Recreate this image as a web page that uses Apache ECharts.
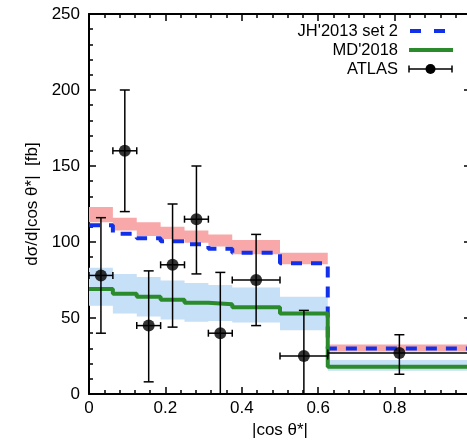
<!DOCTYPE html>
<html>
<head>
<meta charset="utf-8">
<script src="https://cdn.jsdelivr.net/npm/echarts@6/dist/echarts.min.js"></script>
<style>
html,body{margin:0;padding:0;background:#fff;}
#chart{width:467px;height:445px;}
</style>
</head>
<body>
<div id="chart"></div>
<script>
// ---- data ----
var binEdges = [0, 0.0625, 0.125, 0.1875, 0.25, 0.3125, 0.375, 0.5, 0.625, 1];
var jhCentral = [111, 105.5, 102.5, 100.5, 98.5, 95.5, 93, 86, 30];
var jhBandLow = [113, 107.5, 104, 102, 99.5, 97, 92, 85.3, 28];
var jhBandHigh = [123, 116, 113, 110, 107.5, 105, 101.3, 93, 32.5];
var mdCentral = [69, 66, 64, 62, 60, 59, 57, 53, 18];
var mdBandLow = [58, 53, 51, 49, 47.6, 48, 47, 42, 15.3];
var mdBandHigh = [83, 79, 77, 74.6, 73, 71.7, 70, 64, 22.4];
var atlasX = [0.03125, 0.09375, 0.15625, 0.21875, 0.28125, 0.34375, 0.4375, 0.5625, 0.8125];
var atlasXErr = [0.03125, 0.03125, 0.03125, 0.03125, 0.03125, 0.03125, 0.0625, 0.0625, 0.1875];
var atlasY = [78, 160, 45, 85, 115, 40, 75, 25, 27];
var atlasYLow = [40, 120, 8, 44, 79, -2, 45, -5, 13];
var atlasYHigh = [116, 200, 81, 125, 150, 80, 105, 55, 39];
var seriesNames = ["JH'2013 set 2", "MD'2018", "ATLAS"];
var xTitle = '|cos θ*|';
var yTitle = 'dσ/d|cos θ*|  [fb]';

// ---- styles ----
var FONT = 'Liberation Sans, Arial, Helvetica, sans-serif';
var C_JH = '#1230ea';
var C_JH_BAND = '#f8a8a8';
var C_MD = '#2b8a2b';
var C_MD_BAND = '#c6e0f8';

function stepData(vals) {
  var d = [];
  for (var i = 0; i < vals.length; i++) d.push([binEdges[i], vals[i]]);
  d.push([binEdges[binEdges.length - 1], vals[vals.length - 1]]);
  return d;
}
function bandData(lo, hi) {
  var d = [];
  for (var i = 0; i < lo.length; i++) d.push([binEdges[i], binEdges[i + 1], lo[i], hi[i]]);
  return d;
}
function bandRender(color, lo, hi) {
  return function (params, api) {
    if (params.dataIndex !== 0) return null;
    var pts = [];
    for (var i = 0; i < lo.length; i++) {
      pts.push(api.coord([binEdges[i], hi[i]]));
      pts.push(api.coord([binEdges[i + 1], hi[i]]));
    }
    for (var j = lo.length - 1; j >= 0; j--) {
      pts.push(api.coord([binEdges[j + 1], lo[j]]));
      pts.push(api.coord([binEdges[j], lo[j]]));
    }
    return { type: 'polygon', shape: { points: pts }, style: { fill: color } };
  };
}

var atlasData = atlasX.map(function (x, i) {
  return [x, atlasY[i], atlasXErr[i], atlasYLow[i], atlasYHigh[i]];
});

function errRender(params, api) {
  var x = api.value(0), y = api.value(1), xe = api.value(2), lo = api.value(3), hi = api.value(4);
  var c = api.coord([x, y]);
  var pLo = api.coord([x, lo]);
  var pHi = api.coord([x, hi]);
  var pL = api.coord([x - xe, y]);
  var pR = api.coord([x + xe, y]);
  var st = { stroke: '#000', lineWidth: 1.5 };
  var cw = 5, ch = 3.5;
  return {
    type: 'group',
    children: [
      { type: 'line', shape: { x1: c[0], y1: pLo[1], x2: c[0], y2: pHi[1] }, style: st },
      { type: 'line', shape: { x1: c[0] - cw, y1: pLo[1], x2: c[0] + cw, y2: pLo[1] }, style: st },
      { type: 'line', shape: { x1: c[0] - cw, y1: pHi[1], x2: c[0] + cw, y2: pHi[1] }, style: st },
      { type: 'line', shape: { x1: pL[0], y1: c[1], x2: pR[0], y2: c[1] }, style: st },
      { type: 'line', shape: { x1: pL[0], y1: c[1] - ch, x2: pL[0], y2: c[1] + ch }, style: st },
      { type: 'line', shape: { x1: pR[0], y1: c[1] - ch, x2: pR[0], y2: c[1] + ch }, style: st }
    ]
  };
}

var axisLineStyle = { show: true, onZero: false, lineStyle: { color: '#000', width: 2 } };
var tickStyle = { show: true, inside: true, length: 7, lineStyle: { color: '#000', width: 1.5 } };
var minorStyle = { show: true, splitNumber: 5, length: 4, lineStyle: { color: '#000', width: 1.5 } };
var labelStyle = { color: '#000', fontSize: 17, fontFamily: FONT };

var chart = echarts.init(document.getElementById('chart'), null, { renderer: 'canvas' });
chart.setOption({
  animation: false,
  backgroundColor: '#fff',
  grid: { left: 89, top: 14, width: 382, height: 380, containLabel: false, outerBoundsMode: 'none' },
  xAxis: [
    {
      type: 'value', min: 0, max: 1, interval: 0.2, position: 'bottom',
      axisLine: axisLineStyle, axisTick: tickStyle, minorTick: minorStyle,
      splitLine: { show: false },
      axisLabel: Object.assign({ margin: 6, formatter: function (v) { return v >= 1 ? '' : String(v); } }, labelStyle),
      name: xTitle, nameLocation: 'middle', nameGap: 27,
      nameTextStyle: { color: '#000', fontSize: 17, fontFamily: FONT }
    },
    {
      type: 'value', min: 0, max: 1, interval: 0.2, position: 'top',
      axisLine: axisLineStyle, axisTick: tickStyle, minorTick: minorStyle,
      splitLine: { show: false }, axisLabel: { show: false }
    }
  ],
  yAxis: [
    {
      type: 'value', min: 0, max: 250, interval: 50, position: 'left',
      axisLine: axisLineStyle, axisTick: tickStyle, minorTick: minorStyle,
      splitLine: { show: false },
      axisLabel: Object.assign({ margin: 9 }, labelStyle),
      name: yTitle, nameLocation: 'middle', nameGap: 46, nameRotate: 90,
      nameTextStyle: { color: '#000', fontSize: 17, fontFamily: FONT }
    },
    {
      type: 'value', min: 0, max: 250, interval: 50, position: 'right',
      axisLine: axisLineStyle, axisTick: tickStyle, minorTick: minorStyle,
      splitLine: { show: false }, axisLabel: { show: false }
    }
  ],
  series: [
    {
      type: 'custom', name: 'jhBand', data: bandData(jhBandLow, jhBandHigh),
      renderItem: bandRender(C_JH_BAND, jhBandLow, jhBandHigh), z: 1, silent: true
    },
    {
      type: 'custom', name: 'mdBand', data: bandData(mdBandLow, mdBandHigh),
      renderItem: bandRender(C_MD_BAND, mdBandLow, mdBandHigh), z: 1, silent: true
    },
    {
      type: 'line', name: seriesNames[0], data: stepData(jhCentral), step: 'end',
      showSymbol: false, symbol: 'none', z: 3,
      lineStyle: { color: C_JH, width: 4, type: [11, 9] }
    },
    {
      type: 'line', name: seriesNames[1], data: stepData(mdCentral), step: 'end',
      showSymbol: false, symbol: 'none', z: 3,
      lineStyle: { color: C_MD, width: 4 }
    },
    {
      type: 'custom', name: 'atlasErr', data: atlasData, renderItem: errRender, clip: true, z: 4
    },
    {
      type: 'scatter', name: seriesNames[2], data: atlasX.map(function (x, i) { return [x, atlasY[i]]; }),
      symbol: 'circle', symbolSize: 12, itemStyle: { color: '#000' }, z: 5
    }
  ],
  graphic: [
    { type: 'text', x: 398, y: 31, style: { text: seriesNames[0], fill: '#000', fontSize: 16.5, fontFamily: FONT, align: 'right', verticalAlign: 'middle' } },
    { type: 'text', x: 398, y: 50, style: { text: seriesNames[1], fill: '#000', fontSize: 16.5, fontFamily: FONT, align: 'right', verticalAlign: 'middle' } },
    { type: 'text', x: 398, y: 69, style: { text: seriesNames[2], fill: '#000', fontSize: 16.5, fontFamily: FONT, align: 'right', verticalAlign: 'middle' } },
    { type: 'line', shape: { x1: 410, y1: 31, x2: 452, y2: 31 }, style: { stroke: C_JH, lineWidth: 4, lineDash: [11, 13] } },
    { type: 'line', shape: { x1: 409, y1: 50, x2: 453, y2: 50 }, style: { stroke: C_MD, lineWidth: 4 } },
    { type: 'line', shape: { x1: 409, y1: 69, x2: 452, y2: 69 }, style: { stroke: '#000', lineWidth: 1.5 } },
    { type: 'line', shape: { x1: 409, y1: 65.5, x2: 409, y2: 72.5 }, style: { stroke: '#000', lineWidth: 1.5 } },
    { type: 'line', shape: { x1: 452, y1: 65.5, x2: 452, y2: 72.5 }, style: { stroke: '#000', lineWidth: 1.5 } },
    { type: 'circle', shape: { cx: 430.5, cy: 69, r: 5 }, style: { fill: '#000' } }
  ]
});
</script>
</body>
</html>
